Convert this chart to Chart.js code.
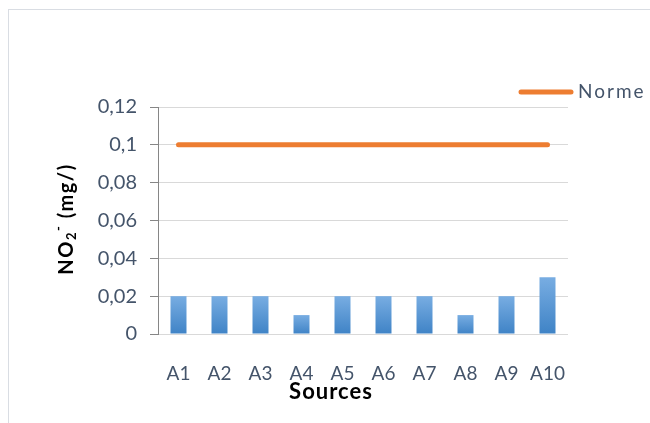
<!DOCTYPE html>
<html>
<head>
<meta charset="utf-8">
<script src="https://cdn.jsdelivr.net/npm/chart.js@4/dist/chart.umd.min.js"></script>
<style>
  html, body { margin: 0; padding: 0; background: #ffffff; }
  #wrap { position: relative; width: 650px; height: 423px; }
</style>
</head>
<body>
<div id="wrap"><canvas id="c" width="650" height="423"></canvas></div>
<script>
// ---- data ----
const categories = ['A1', 'A2', 'A3', 'A4', 'A5', 'A6', 'A7', 'A8', 'A9', 'A10'];
const no2Values = [0.02, 0.02, 0.02, 0.01, 0.02, 0.02, 0.02, 0.01, 0.02, 0.03];
const normeValues = [0.1, 0.1, 0.1, 0.1, 0.1, 0.1, 0.1, 0.1, 0.1, 0.1];
const yTickLabels = ['0', '0,02', '0,04', '0,06', '0,08', '0,1', '0,12'];
const seriesNames = ['NO2', 'Norme'];
const xTitle = 'Sources';

const FONT = 'Lato, "Open Sans", sans-serif';
const TEXT_COLOR = '#44546A';
const ORANGE = '#ED7D31';

function barGradient(ctx) {
  const chart = ctx.chart;
  const ys = chart.scales.y;
  if (!ys || ctx.type !== 'data') return '#5B9BD5';
  const top = ys.getPixelForValue(ctx.raw);
  const base = ys.getPixelForValue(0);
  if (!isFinite(top) || !isFinite(base) || top === base) return '#5B9BD5';
  const g = chart.ctx.createLinearGradient(0, top, 0, base);
  g.addColorStop(0, '#78ADE2');
  g.addColorStop(1, '#3F83C6');
  return g;
}

const decorPlugin = {
  id: 'decor',
  beforeDraw(chart) {
    const c = chart.ctx;
    c.save();
    c.strokeStyle = '#D9DDE3';
    c.lineWidth = 1;
    c.strokeRect(8.5, 9.5, 700, 500);
    c.restore();
  },
  afterDraw(chart) {
    const c = chart.ctx;
    c.save();
    // legend
    c.strokeStyle = ORANGE;
    c.lineWidth = 5;
    c.lineCap = 'round';
    c.beginPath();
    c.moveTo(521, 92);
    c.lineTo(571, 92);
    c.stroke();
    c.fillStyle = TEXT_COLOR;
    c.font = '19px ' + FONT;
    c.letterSpacing = '2px';
    c.textBaseline = 'middle';
    c.textAlign = 'left';
    c.fillText(seriesNames[1], 578, 92);

    // x title
    c.fillStyle = '#000000';
    c.font = 'bold 22px ' + FONT;
    c.letterSpacing = '1px';
    c.textAlign = 'center';
    c.textBaseline = 'middle';
    c.fillText(xTitle, 331, 392);

    // y title: NO2- (mg/) with subscript / superscript
    const cx = 67, cy = 219;
    const big = 'bold 20px ' + FONT;
    const small = 'bold 13px ' + FONT;
    c.letterSpacing = '1.5px';
    const parts = [
      { t: 'NO', f: big, dy: 0 },
      { t: '2', f: small, dy: 5 },
      { t: '-', f: small, dy: -8 },
      { t: ' (mg/)', f: big, dy: 0 }
    ];
    let total = 0;
    parts.forEach(p => { c.font = p.f; p.w = c.measureText(p.t).width; total += p.w; });
    c.translate(cx, cy);
    c.rotate(-Math.PI / 2);
    c.textAlign = 'left';
    c.textBaseline = 'middle';
    let x = -total / 2;
    parts.forEach(p => {
      c.font = p.f;
      c.fillText(p.t, x, p.dy);
      x += p.w;
    });
    c.restore();
  }
};

new Chart(document.getElementById('c'), {
  data: {
    labels: categories,
    datasets: [
      {
        type: 'line',
        label: seriesNames[1],
        data: normeValues,
        borderColor: ORANGE,
        backgroundColor: ORANGE,
        borderWidth: 5,
        borderCapStyle: 'round',
        pointRadius: 0,
        pointHoverRadius: 0,
        fill: false,
        order: 0
      },
      {
        type: 'bar',
        label: seriesNames[0],
        data: no2Values,
        backgroundColor: barGradient,
        borderWidth: 0,
        barPercentage: 0.39,
        categoryPercentage: 1.0,
        order: 1
      }
    ]
  },
  options: {
    responsive: false,
    animation: false,
    events: [],
    layout: { padding: { left: 0, right: 82, top: 107, bottom: 0 } },
    plugins: {
      legend: { display: false },
      tooltip: { enabled: false },
      title: { display: false }
    },
    scales: {
      x: {
        type: 'category',
        offset: true,
        grid: { display: false, drawTicks: false },
        border: { display: false },
        ticks: {
          color: TEXT_COLOR,
          font: { family: FONT, size: 19 },
          padding: 28,
          maxRotation: 0,
          autoSkip: false
        },
        afterFit(scale) { scale.height = 89; }
      },
      y: {
        min: 0,
        max: 0.12,
        grid: {
          color: '#D9D9D9',
          lineWidth: 1,
          tickColor: '#868686',
          tickLength: 8,
          drawTicks: true
        },
        border: { display: true, color: '#868686', width: 1 },
        ticks: {
          stepSize: 0.02,
          color: TEXT_COLOR,
          font: { family: FONT, size: 20 },
          padding: 13,
          callback: (v) => yTickLabels[Math.round(v / 0.02)]
        },
        afterFit(scale) { scale.width = 158; }
      }
    }
  },
  plugins: [decorPlugin]
});
</script>
</body>
</html>
